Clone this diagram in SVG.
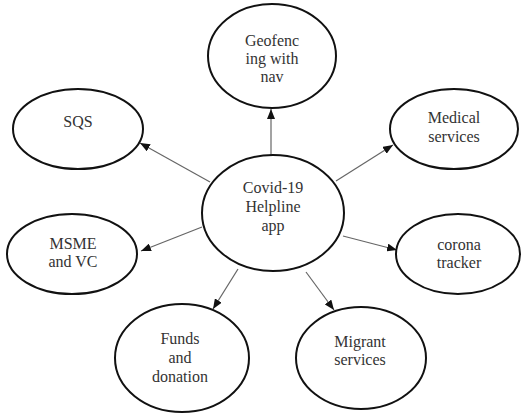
<svg xmlns="http://www.w3.org/2000/svg" width="522" height="414" viewBox="0 0 522 414">
<defs>
<style>
.n{fill:#fff;stroke:#111;stroke-width:2}
.t{font-size:16px;fill:#333;text-anchor:middle}
.c{stroke:#666;stroke-width:1.2;fill:none;marker-end:url(#ah)}
</style>
<marker id="ah" viewBox="0 0 10 8" refX="10" refY="4" markerWidth="10" markerHeight="8" markerUnits="userSpaceOnUse" orient="auto">
<path d="M0,0 L10,4 L0,8 Z" fill="#111"/>
</marker>
</defs>
<rect width="522" height="414" fill="#fff"/>
<g id="connectors">
<line class="c" x1="210" y1="182" x2="140" y2="143"/>
<line class="c" x1="271" y1="156" x2="271" y2="109"/>
<line class="c" x1="336" y1="181" x2="393" y2="145"/>
<line class="c" x1="202" y1="227" x2="141" y2="251"/>
<line class="c" x1="238" y1="269" x2="213" y2="309"/>
<line class="c" x1="343" y1="236" x2="397" y2="250"/>
<line class="c" x1="306" y1="272" x2="334" y2="310"/>
</g>
<g id="center">
<ellipse class="n" cx="273" cy="213" rx="71" ry="58"/>
<text class="t" font-family="Liberation Serif" x="273" y="193">Covid-19</text>
<text class="t" font-family="Liberation Serif" x="273" y="212">Helpline</text>
<text class="t" font-family="Liberation Serif" x="273" y="231">app</text>
</g>
<g id="geofencing">
<ellipse class="n" cx="272" cy="56" rx="64" ry="52"/>
<text class="t" font-family="Liberation Serif" x="272" y="46">Geofenc</text>
<text class="t" font-family="Liberation Serif" x="272" y="64">ing with</text>
<text class="t" font-family="Liberation Serif" x="272" y="82">nav</text>
</g>
<g id="sqs">
<ellipse class="n" cx="78" cy="129" rx="65" ry="40"/>
<text class="t" font-family="Liberation Serif" x="78" y="127">SQS</text>
</g>
<g id="medical">
<ellipse class="n" cx="454" cy="129" rx="64" ry="40"/>
<text class="t" font-family="Liberation Serif" x="454" y="123">Medical</text>
<text class="t" font-family="Liberation Serif" x="454" y="142">services</text>
</g>
<g id="msme">
<ellipse class="n" cx="72" cy="254" rx="65" ry="40"/>
<text class="t" font-family="Liberation Serif" x="73" y="249">MSME</text>
<text class="t" font-family="Liberation Serif" x="73" y="267">and VC</text>
</g>
<g id="corona">
<ellipse class="n" cx="458" cy="254" rx="62" ry="40"/>
<text class="t" font-family="Liberation Serif" x="459" y="250">corona</text>
<text class="t" font-family="Liberation Serif" x="459" y="268">tracker</text>
</g>
<g id="funds">
<ellipse class="n" cx="182" cy="358" rx="67" ry="54"/>
<text class="t" font-family="Liberation Serif" x="180" y="344">Funds</text>
<text class="t" font-family="Liberation Serif" x="180" y="363">and</text>
<text class="t" font-family="Liberation Serif" x="180" y="382">donation</text>
</g>
<g id="migrant">
<ellipse class="n" cx="361" cy="358" rx="65" ry="51"/>
<text class="t" font-family="Liberation Serif" x="360" y="347">Migrant</text>
<text class="t" font-family="Liberation Serif" x="360" y="365">services</text>
</g>
</svg>
